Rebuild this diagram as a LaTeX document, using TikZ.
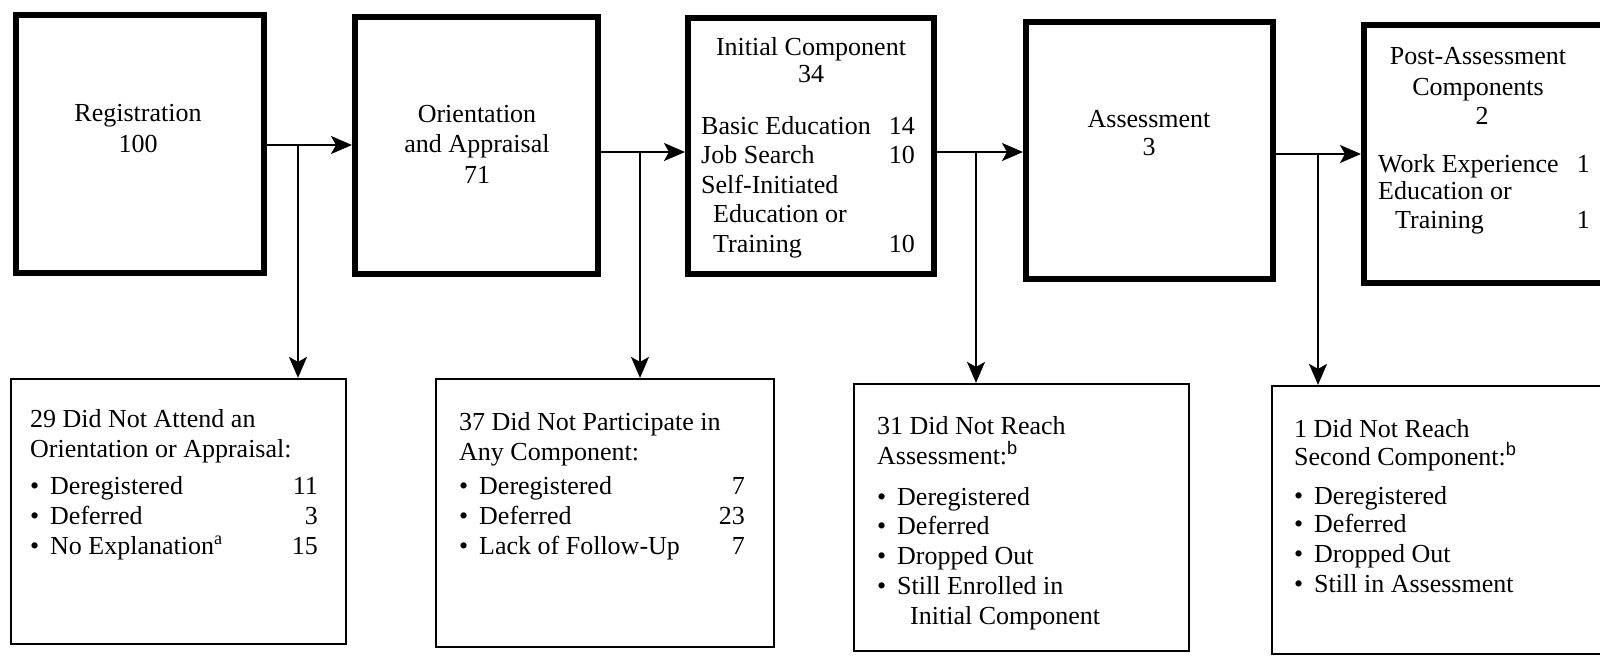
\documentclass[tikz,border=0pt]{standalone}
\usepackage{fontspec}
\setmainfont{Liberation Serif}
\setsansfont{Liberation Sans}
\usetikzlibrary{arrows.meta}
\newcommand\dgfont{\fontsize{26}{29}\selectfont}
\newcommand\itm{\textbullet\hspace{0.42em}}
\begin{document}
\begin{tikzpicture}[x=1pt,y=-1pt,
  stagebox/.style={draw, line width=6pt, inner sep=0pt, minimum width=#1},
  dropbox/.style={draw, line width=2.2pt, inner sep=0pt, minimum width=#1},
  conn/.style={line width=2pt, -{Stealth[length=21pt,width=18pt,inset=5pt]}},
  tl/.style={font=\dgfont, inner sep=0pt, anchor=base west},
  tr/.style={font=\dgfont, inner sep=0pt, anchor=base east},
  tc/.style={font=\dgfont, inner sep=0pt, anchor=base}]
\useasboundingbox (0,0) rectangle (1600,657);
\clip (0,0) rectangle (1600,657);

% stage boxes along the top
\node[stagebox=248pt, minimum height=258pt] (b1) at (140,144) {};
\node[stagebox=243pt, minimum height=257pt] (b2) at (476.5,145.5) {};
\node[stagebox=246pt, minimum height=256pt] (b3) at (811,146) {};
\node[stagebox=247pt, minimum height=257pt] (b4) at (1149.5,150.5) {};
\node[stagebox=258pt, minimum height=258pt] (b5) at (1493,154) {};

% drop-out boxes along the bottom
\node[dropbox=335pt, minimum height=265pt] (d1) at (178.5,511.5) {};
\node[dropbox=338pt, minimum height=268pt] (d2) at (605,513) {};
\node[dropbox=335pt, minimum height=267pt] (d3) at (1021.5,517.5) {};
\node[dropbox=352pt, minimum height=268pt] (d4) at (1448,520) {};

% branching points
\coordinate (j1) at (298,145);
\coordinate (j2) at (640,152);
\coordinate (j3) at (976,152);
\coordinate (j4) at (1318,154);

% flow between stages
\draw[conn] (b1.east |- j1) -- (b2.west |- j1);
\draw[conn] (b2.east |- j2) -- (b3.west |- j2);
\draw[conn] (b3.east |- j3) -- (b4.west |- j3);
\draw[conn] (b4.east |- j4) -- (b5.west |- j4);

% branches down to the drop-out boxes
\draw[conn] (j1) -- (j1 |- d1.north);
\draw[conn] (j2) -- (j2 |- d2.north);
\draw[conn] (j3) -- (j3 |- d3.north);
\draw[conn] (j4) -- (j4 |- d4.north);

% stage texts
\node[tc] (b1a) at (138,121) {Registration};
\node[tc] (b1b) at (138,152) {100};

\node[tc] (b2a) at (477,122) {Orientation};
\node[tc] (b2b) at (477,152) {and Appraisal};
\node[tc] (b2c) at (477,183) {71};

\node[tc] (b3a) at (811,55) {Initial Component};
\node[tc] (b3b) at (811,82) {34};
\node[tl] (b3c) at (701,134) {Basic Education};
\node[tr] (b3cn) at (915,134) {14};
\node[tl] (b3d) at (701,163) {Job Search};
\node[tr] (b3dn) at (915,163) {10};
\node[tl] (b3e) at (701,193) {Self-Initiated};
\node[tl] (b3f) at (713,222) {Education or};
\node[tl] (b3g) at (713,252) {Training};
\node[tr] (b3gn) at (915,252) {10};

\node[tc] (b4a) at (1149,127) {Assessment};
\node[tc] (b4b) at (1149,155) {3};

\node[tc] (b5a) at (1478,64) {Post-Assessment};
\node[tc] (b5b) at (1478,95) {Components};
\node[tc] (b5c) at (1482,124) {2};
\node[tl] (b5d) at (1378,172) {Work Experience};
\node[tr] (b5dn) at (1590,172) {1};
\node[tl] (b5e) at (1378,199) {Education or};
\node[tl] (b5f) at (1395,228) {Training};
\node[tr] (b5fn) at (1590,228) {1};

% drop-out texts
\node[tl] (d1a) at (30,427) {29 Did Not Attend an};
\node[tl] (d1b) at (30,457) {Orientation or Appraisal:};
\node[tl] (d1c) at (30,494) {\itm Deregistered};
\node[tr] (d1cn) at (318,494) {11};
\node[tl] (d1d) at (30,524) {\itm Deferred};
\node[tr] (d1dn) at (318,524) {3};
\node[tl] (d1e) at (30,554) {\itm No Explanation\textsuperscript{a}};
\node[tr] (d1en) at (318,554) {15};

\node[tl] (d2a) at (459,430) {37 Did Not Participate in};
\node[tl] (d2b) at (459,460) {Any Component:};
\node[tl] (d2c) at (459,494) {\itm Deregistered};
\node[tr] (d2cn) at (745,494) {7};
\node[tl] (d2d) at (459,524) {\itm Deferred};
\node[tr] (d2dn) at (745,524) {23};
\node[tl] (d2e) at (459,554) {\itm Lack of Follow-Up};
\node[tr] (d2en) at (745,554) {7};

\node[tl] (d3a) at (877,434) {31 Did Not Reach};
\node[tl] (d3b) at (877,464) {Assessment:\textsuperscript{\textsf{b}}};
\node[tl] (d3c) at (877,505) {\itm Deregistered};
\node[tl] (d3d) at (877,534) {\itm Deferred};
\node[tl] (d3e) at (877,564) {\itm Dropped Out};
\node[tl] (d3f) at (877,594) {\itm Still Enrolled in};
\node[tl] (d3g) at (910,624) {Initial Component};

\node[tl] (d4a) at (1294,437) {1 Did Not Reach};
\node[tl] (d4b) at (1294,465) {Second Component:\textsuperscript{\textsf{b}}};
\node[tl] (d4c) at (1294,504) {\itm Deregistered};
\node[tl] (d4d) at (1294,532) {\itm Deferred};
\node[tl] (d4e) at (1294,562) {\itm Dropped Out};
\node[tl] (d4f) at (1294,592) {\itm Still in Assessment};
\end{tikzpicture}
\end{document}
